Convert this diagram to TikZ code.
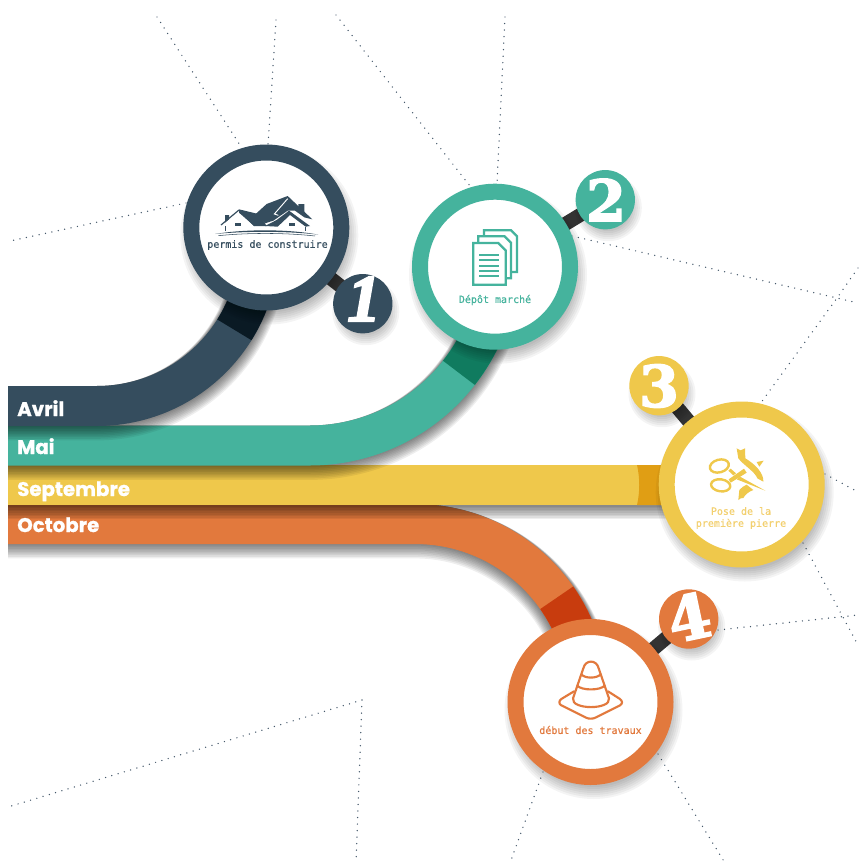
\documentclass[tikz,border=0pt]{standalone}
\usepackage{fontspec}
\newfontfamily\bandf[FakeBold=1]{Poppins}
\newfontfamily\labelf[FakeBold=0.4]{DejaVu Sans Mono}
\newfontfamily\numf[FakeBold=2.5]{DejaVu Serif}
\newfontfamily\numi[FakeBold=3]{Liberation Serif}
\definecolor{navy}{HTML}{354D5E}
\definecolor{navyd}{HTML}{0A1A24}
\definecolor{teal2}{HTML}{45B39D}
\definecolor{teald}{HTML}{107B5F}
\definecolor{yel}{HTML}{EFC84B}
\definecolor{yeld}{HTML}{E09E14}
\definecolor{yell}{HTML}{F3D06F}
\definecolor{ora}{HTML}{E2793D}
\definecolor{orad}{HTML}{C83C0E}
\definecolor{dots}{HTML}{44586A}
\definecolor{stemc}{HTML}{333333}
\tikzset{
  x=0.75pt,y=-0.75pt,
  dotline/.style={draw=dots,line width=1.1pt,line cap=round,dash pattern=on 0pt off 4.9pt},
  band/.style={line width=30pt,line cap=butt,line join=round},
  stemline/.style={draw=stemc,line width=10.5pt,line cap=butt},
  bigc/.style={circle,draw=#1,fill=white,line width=12pt,minimum size=112.5pt,inner sep=0pt,outer sep=0pt},
  smallc/.style={circle,fill=#1,minimum size=44.5pt,inner sep=0pt,outer sep=0pt},
  bandlabel/.style={anchor=base west,inner sep=0pt,text=white,font=\bandf\bfseries\fontsize{14.8}{16}\selectfont},
  steplabel/.style={align=center,inner sep=0pt,font=\labelf\fontsize{7.5}{9}\selectfont,text=#1},
  numlabel/.style={inner sep=0pt,text=white,font=\numf\bfseries\fontsize{43}{43}\selectfont},
}
\newcommand{\softcircle}[4]{%
  \foreach \k in {-6,-4,...,#4}{\fill[black,opacity=0.045] (#1+3,#2+8) circle[radius=#3+\k];}}
\newcommand{\softband}[1]{%
  \foreach \k in {0,1,...,9}{\draw[black,opacity=0.065,line width=30pt+1.2pt*\k,line cap=butt,shift={(0,0.8*\k)}] #1;}}
\newcommand{\pathavril}{(8,406) -- (97,406) -- plot[domain=90:8,samples=50] ({97+162*cos(\x)},{244+162*sin(\x)})}
\newcommand{\pathmai}{(8,445.5) -- (310,445.5) -- plot[domain=90:12,samples=60] ({310+189*cos(\x)},{256.5+189*sin(\x)})}
\newcommand{\pathsept}{(8,485) -- (700,485)}
\newcommand{\pathoct}{(8,524) -- (415,524) -- plot[domain=-90:-15,samples=60] ({415+173*cos(\x)},{697+173*sin(\x)})}
\begin{document}
\begin{tikzpicture}
\useasboundingbox (0,0) rectangle (859,864);
% dotted background lines
\coordinate (j1) at (837,298);
\coordinate (j2) at (362,700);
\draw[dotline] (157,17) -- (240,145);
\draw[dotline] (276,20) -- (268,145);
\draw[dotline] (186,203) -- (10,241);
\draw[dotline] (336,15) -- (470,186);
\draw[dotline] (505,17) -- (497,183);
\draw[dotline] (572,236) -- (j1) -- (858,303);
\draw[dotline] (858,268) -- (j1) -- (760,404);
\draw[dotline] (825,474) -- (858,492);
\draw[dotline] (803,543) -- (858,645);
\draw[dotline] (718,630) -- (858,615);
\draw[dotline] (658,754) -- (725,863);
\draw[dotline] (543,772) -- (510,863);
\draw[dotline] (j2) -- (8,807);
\draw[dotline] (j2) -- (356,863);
% bands, back to front
\softband{\pathoct}
\draw[band,draw=ora] \pathoct;
\draw[band,draw=orad] plot[domain=-35:-15,samples=20] ({415+173*cos(\x)},{697+173*sin(\x)});
\softband{\pathsept}
\draw[band,draw=yel] \pathsept;
\fill[yeld] (637,465) .. controls (640,478) and (640,492) .. (637,505) -- (700,505) -- (700,465) -- cycle;
\softband{\pathmai}
\draw[band,draw=teal2] \pathmai;
\draw[band,draw=teald] plot[domain=38:12,samples=20] ({310+189*cos(\x)},{256.5+189*sin(\x)});
\softband{\pathavril}
\draw[band,draw=navy] \pathavril;
\draw[band,draw=navyd] plot[domain=32:8,samples=20] ({97+162*cos(\x)},{244+162*sin(\x)});
\node[bandlabel] (lavril) at (17,416) {Avril};
\node[bandlabel] (lmai) at (17,454) {Mai};
\node[bandlabel] (lsept) at (17,496) {Septembre};
\node[bandlabel] (loct) at (17,532) {Octobre};
% positions
\coordinate (p1) at (266.3,227.5);
\coordinate (p2) at (495,266.7);
\coordinate (p3) at (741.7,484.5);
\coordinate (p4) at (590.5,702);
\coordinate (q1) at (362.8,303.7);
\coordinate (q2) at (605.3,199.7);
\coordinate (q3) at (659,385.7);
\coordinate (q4) at (688.7,619);
% stems
\draw[stemline] (p1) -- (q1);
\draw[stemline] (p2) -- (q2);
\draw[stemline] (p3) -- (q3);
\draw[stemline] (p4) -- (q4);
% shadows
\softcircle{266.3}{227.5}{83}{6}
\softcircle{495}{266.7}{83}{6}
\softcircle{741.7}{484.5}{83}{6}
\softcircle{590.5}{702}{83}{6}
\softcircle{362.8}{303.7}{29.5}{4}
\softcircle{605.3}{199.7}{29.5}{4}
\softcircle{659}{385.7}{29.5}{4}
\softcircle{688.7}{619}{29.5}{4}
% circles
\node[bigc=navy] (c1) at (p1) {};
\node[bigc=teal2] (c2) at (p2) {};
\node[bigc=yel] (c3) at (p3) {};
\node[bigc=ora] (c4) at (p4) {};
\node[smallc=navy] (n1) at (q1) {};
\node[smallc=teal2] (n2) at (q2) {};
\node[smallc=yel] (n3) at (q3) {};
\node[smallc=ora] (n4) at (q4) {};
\node[numlabel,font=\numi\bfseries\itshape\fontsize{50}{50}\selectfont] (d1) at (364,299) {1};
\node[numlabel] (d2) at (606,200) {2};
\node[numlabel] (d3) at (659,386) {3};
\node[numlabel,rotate=12,font=\numf\bfseries\fontsize{46}{46}\selectfont] (d4) at (689,617) {4};
% labels
\node[steplabel=navy] (t1) at (267.5,245) {permis de construire};
\node[steplabel=teal2] (t2) at (495,300) {Dépôt marché};
\node[steplabel=yell] (t3) at (741,518) {Pose de la\\première pierre};
\node[steplabel=ora] (t4) at (590.5,730) {début des travaux};
% house icon
\begin{scope}[shift={(215,190)},x=0.25pt,y=-0.25pt]
\fill[navy] (122,72) -- (155,42) -- (218,18) -- (292,88) -- (268,82) -- (240,62) -- (218,62) -- (175,92) -- (150,100) -- cycle;
\fill[navy] (250,42) -- (268,42) -- (268,66) -- (250,54) -- cycle;
\fill[navy] (72,58) -- (130,72) -- (155,108) -- (118,108) -- (72,68) -- cycle;
\draw[navy,line width=0.9pt] (18,105) -- (72,60);
\draw[navy,line width=0.6pt] (72,62) -- (118,108);
\fill[navy] (30,75) -- (42,75) -- (42,88) -- (30,98) -- cycle;
\fill[navy] (150,108) -- (185,90) -- (222,62) -- (285,108) -- (272,110) -- (225,75) -- (188,110) -- cycle;
\draw[white,line width=0.7pt] (218,26) -- (178,72) -- (190,76);
\fill[navy] (60,98) rectangle (78,108);
\fill[navy] (222,98) rectangle (240,108);
\fill[navy] (0,132) .. controls (90,117) and (220,117) .. (310,134) .. controls (220,123) and (90,123) .. cycle;
\draw[navy,line width=0.4pt] (30,108) -- (30,122) (272,110) -- (272,122);
\draw[navy,line width=0.4pt] (10,137) .. controls (100,128) and (210,128) .. (300,138);
\end{scope}
% documents icon
\begin{scope}[shift={(410,160)},x=0.25pt,y=-0.25pt,line width=1.7pt]
\draw[teal2,line join=miter] (222,228) -- (222,211) -- (303,211) -- (321,229) -- (321,336) -- (305,336);
\draw[teal2,line join=miter] (205,247) -- (205,229) -- (284,229) -- (303,248) -- (303,355) -- (290,355);
\draw[teal2,line join=miter] (190,249) -- (265,249) -- (287,271) -- (287,374) -- (190,374) -- cycle;
\draw[teal2,line width=1.3pt] (208,285) -- (268,285) (208,301) -- (268,301) (208,317) -- (268,317) (208,333) -- (268,333) (208,349) -- (268,349);
\end{scope}
% scissors and ribbon icon
\begin{scope}[shift={(700,440)},x=0.25pt,y=-0.25pt]
\draw[yel,line width=1.8pt,rotate around={15:(58,78)}] (58,78) ellipse[x radius=29,y radius=19];
\draw[yel,line width=1.8pt,rotate around={-8:(62,136)}] (62,136) ellipse[x radius=29,y radius=18];
\fill[yel] (110,25) -- (122,31) -- (135,25) -- (136,55) .. controls (165,72) and (192,100) .. (190,125) -- (172,115) .. controls (165,95) and (130,75) .. (115,55) -- cycle;
\fill[yel] (170,66) -- (191,62) -- (178,80) -- cycle;
\fill[yel] (115,180) -- (118,150) .. controls (124,142) and (132,138) .. (140,134) -- (160,150) .. controls (145,155) and (135,165) .. (130,174) -- (122,175) -- cycle;
\fill[yel] (86,118) -- (132,86) -- (140,98) -- (92,128) -- cycle;
\fill[yel] (85,92) -- (92,86) -- (108,100) -- (100,106) -- cycle;
\fill[yel] (110,118) -- (120,110) -- (196,152) -- cycle;
\end{scope}
% cone icon
\begin{scope}[shift={(500,570)},x=0.25pt,y=-0.25pt,line join=round,line cap=round]
\begin{scope}[line width=1.6pt]
\draw[ora] (219,385) -- (250,295) .. controls (256,268) and (290,268) .. (296,295) -- (327,385);
\draw[ora] (219,385) .. controls (212,420) and (334,420) .. (327,385);
\draw[ora] (244,313) .. controls (255,326) and (290,326) .. (302,313);
\draw[ora] (232,347) .. controls (245,362) and (300,362) .. (314,347);
\draw[ora] (222,364) -- (184,387) .. controls (176,393) and (176,401) .. (184,406) -- (258,443) .. controls (266,447) and (278,447) .. (286,443) -- (360,406) .. controls (368,401) and (368,393) .. (360,387) -- (324,364);
\end{scope}
\end{scope}
\end{tikzpicture}
\end{document}
